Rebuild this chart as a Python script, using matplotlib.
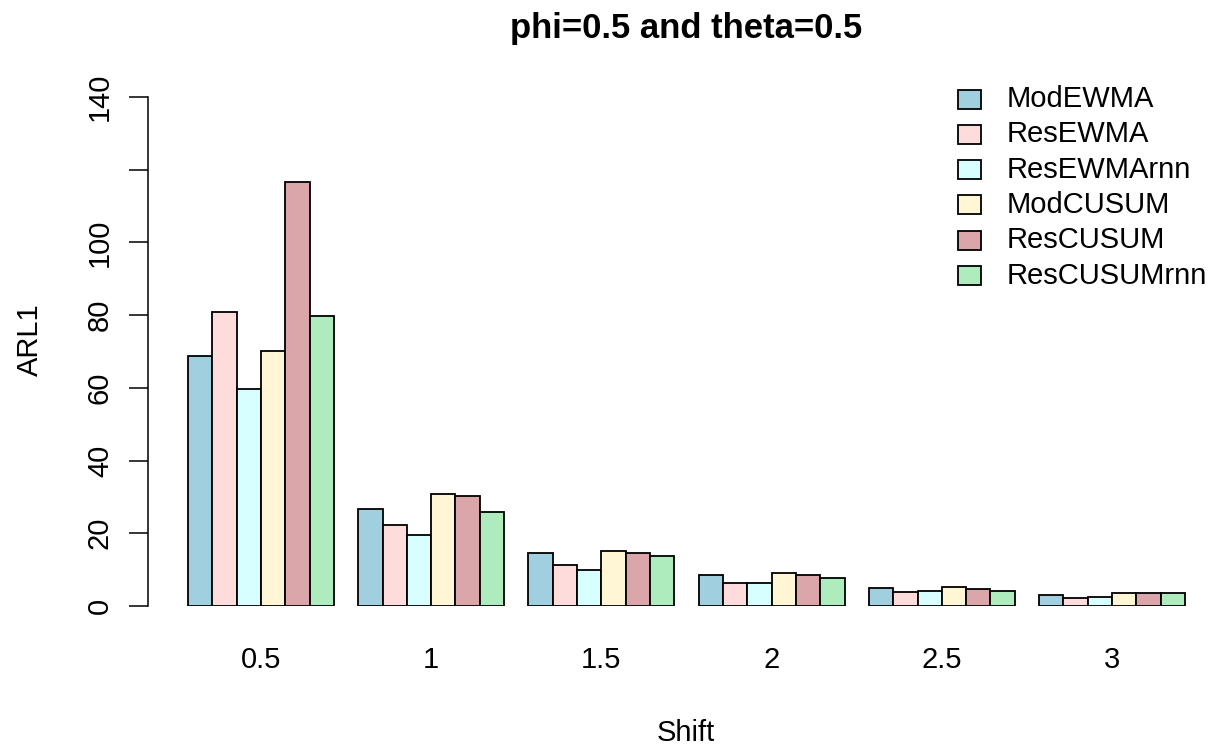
import matplotlib
matplotlib.use("Agg")
from matplotlib import pyplot as plt
from matplotlib.patches import Rectangle

plt.rcParams['font.family'] = ['Liberation Sans', 'DejaVu Sans']

shifts = ["0.5", "1", "1.5", "2", "2.5", "3"]
methods = ["ModEWMA", "ResEWMA", "ResEWMArnn", "ModCUSUM", "ResCUSUM", "ResCUSUMrnn"]
colors = ["#A0CFE0", "#FFDCDC", "#D8FFFF", "#FFF6D5", "#DBA6A9", "#AEEBBD"]

# ARL1 por shift, un array por metodo
mod_ewma = [68.8, 26.6, 14.6, 8.5, 4.9, 3.1]
res_ewma = [80.8, 22.4, 11.2, 6.3, 3.9, 2.3]
res_ewma_rnn = [59.8, 19.4, 10.0, 6.2, 4.2, 2.6]
mod_cusum = [70.2, 30.8, 15.0, 9.0, 5.2, 3.7]
res_cusum = [116.7, 30.2, 14.6, 8.6, 4.6, 3.7]
res_cusum_rnn = [79.7, 25.9, 13.8, 7.7, 4.1, 3.5]

yticks = [0, 20, 40, 60, 80, 100, 120, 140]
ytick_labels = ["0", "20", "40", "60", "80", "100", "", "140"]


def main():
    series = [mod_ewma, res_ewma, res_ewma_rnn, mod_cusum, res_cusum, res_cusum_rnn]
    W, H = 1215, 747
    fig = plt.figure(figsize=(W / 100, H / 100), dpi=100)
    ax = fig.add_axes([148 / W, (H - 606) / H, (1200 - 148) / W, 509 / H])

    # barplot estilo R: beside=TRUE, space=c(0,1)
    n = len(methods) + 1
    for s, vals in enumerate(series):
        xs = [1 + n * g + s for g in range(len(shifts))]
        ax.bar(xs, vals, width=1, align='edge', color=colors[s],
               edgecolor='black', linewidth=1.3)

    ax.set_xlim(-0.645, 42.617)
    ax.set_ylim(0, 140)

    ax.set_xticks([1 + n * g + 3 for g in range(len(shifts))])
    ax.set_xticklabels(shifts)
    ax.tick_params(axis='x', length=0, pad=29, labelsize=21)

    ax.set_yticks(yticks)
    ax.set_yticklabels(ytick_labels, rotation=90, va='center')
    ax.tick_params(axis='y', length=13.5, width=1.1, pad=11, labelsize=21)

    for side in ['top', 'right', 'bottom']:
        ax.spines[side].set_visible(False)
    ax.spines['left'].set_linewidth(1.1)

    fig.text(686 / W, (H - 38) / H, "phi=0.5 and theta=0.5", ha='center',
             va='baseline', fontsize=25, fontweight='bold')
    fig.text(686 / W, (H - 733) / H, "Shift", ha='center', va='center', fontsize=21)
    fig.text(30 / W, (H - 340) / H, "ARL1", ha='center', va='center',
             rotation=90, fontsize=21)

    # leyenda a mano para clavar el espaciado de R
    for i, m in enumerate(methods):
        yc = 99 + i * 35.3
        fig.patches.append(Rectangle((958 / W, (H - yc - 9.5) / H), 23 / W, 19 / H,
                                     transform=fig.transFigure, facecolor=colors[i],
                                     edgecolor='black', linewidth=1.3))
        fig.text(1007 / W, (H - yc) / H, m, ha='left', va='center', fontsize=21)

    fig.savefig("out.png", dpi=100)


if __name__ == '__main__':
    main()
